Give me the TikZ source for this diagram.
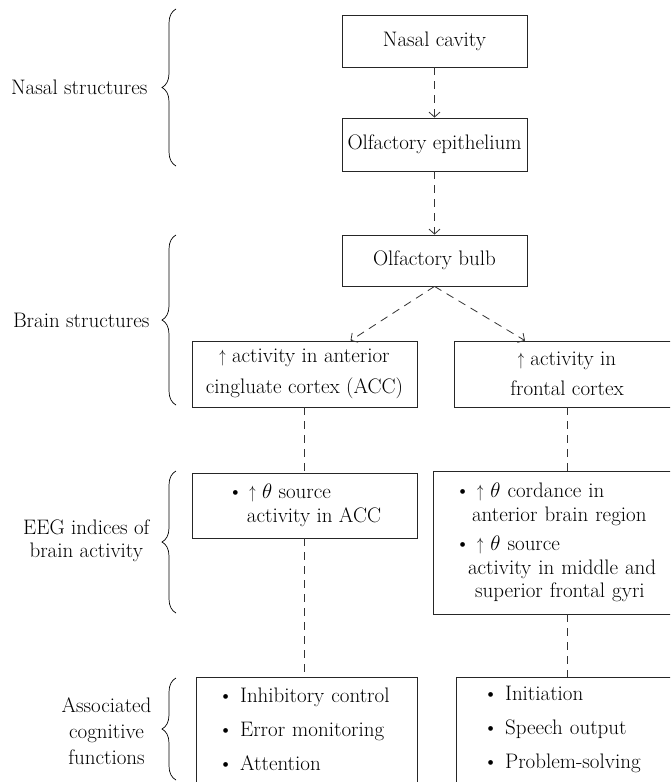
\RequirePackage{fix-cm}
\documentclass[tikz,border=0pt]{standalone}
\usepackage{fontspec}
\usetikzlibrary{arrows.meta,decorations.pathreplacing}
\newcommand\uparw{\scalebox{0.6}[0.85]{$\uparrow$}}
\begin{document}
\begin{tikzpicture}[x=1pt,y=-1pt,
  every node/.style={font=\fontsize{21}{23.5}\selectfont, text=black},
  box/.style={draw=black!85, line width=0.8pt, inner sep=0pt},
  conn/.style={draw=black!80, line width=0.8pt, dash pattern=on 8pt off 6pt},
  arr/.style={conn, -{Straight Barb[length=5pt,width=11pt]}},
  brc/.style={draw=black, line width=0.7pt, decorate, decoration={brace,amplitude=14pt}},
  lbl/.style={anchor=east, align=center}]
\useasboundingbox (0,0) rectangle (670,782);
\clip (0,0) rectangle (670,782);

% boxes
\node[box, minimum width=185pt, minimum height=52pt] (nasal) at (434.5,41) {Nasal cavity};
\node[box, minimum width=185pt, minimum height=53pt] (epith) at (434.5,144.5) {Olfactory epithelium};
\node[box, minimum width=185pt, minimum height=51pt] (bulb) at (434.5,260.5) {Olfactory bulb};
\node[box, minimum width=225pt, minimum height=66pt, align=center] (acc) at (304.5,374)
  {\uparw\ activity in anterior\\[7pt]cingluate cortex (ACC)};
\node[box, minimum width=226pt, minimum height=66pt, align=center] (front) at (567,374)
  {\uparw\ activity in\\[7pt]frontal cortex};
\node[box, minimum width=225pt, minimum height=65pt, align=left] (eegL) at (304.5,505.5)
  {\textbullet\ \uparw\ $\theta$ source\\\hspace*{19pt}activity in ACC};
\node[box, inner xsep=22pt, text width=224pt, minimum height=143pt, align=left] (eegR) at (567,542.5)
  {\textbullet\ \uparw\ $\theta$ cordance in\\\hspace*{17pt}anterior brain region\\[6pt]\textbullet\ \uparw\ $\theta$ source\\\hspace*{13pt}activity in middle and\\\hspace*{20pt}superior frontal gyri};
\node[box, inner xsep=22pt, text width=177pt, minimum height=105pt, align=left,
  font=\fontsize{21}{34}\selectfont] (cogL) at (306.5,729.5)
  {\textbullet\ Inhibitory control\\\textbullet\ Error monitoring\\\textbullet\ Attention};
\node[box, inner xsep=27pt, text width=170pt, minimum height=105pt, align=left,
  font=\fontsize{21}{34}\selectfont] (cogR) at (568,729.5)
  {\textbullet\ Initiation\\\textbullet\ Speech output\\\textbullet\ Problem-solving};

% labels
\node[lbl] (l1) at (151,87) {Nasal structures};
\node[lbl] (l2) at (153,320) {Brain structures};
\node[lbl, font=\fontsize{21}{23}\selectfont] (l3) at (153,541) {EEG indices of\\brain activity};
\node[lbl, font=\fontsize{21}{26}\selectfont] (l4) at (155,731) {Associated\\cognitive\\functions};

% braces
\draw[brc] (176,166) -- (176,9);
\draw[brc] (176,405) -- (176,235);
\draw[brc] (176,613) -- (176,471);
\draw[brc] (176,780) -- (176,678);

% connectors
\draw[arr] (nasal.south) -- (epith.north);
\draw[arr] (epith.south) -- (bulb.north);
\draw[arr] (bulb.south) -- ([xshift=46pt]acc.north);
\draw[arr] (bulb.south) -- ([xshift=-42pt]front.north);
\draw[conn] (acc.south) -- (eegL.north);
\draw[conn] (front.south) -- (front.south |- eegR.north);
\draw[conn] (eegL.south) -- (eegL.south |- cogL.north);
\draw[conn] (eegR.south) -- (eegR.south |- cogR.north);
\end{tikzpicture}
\end{document}
